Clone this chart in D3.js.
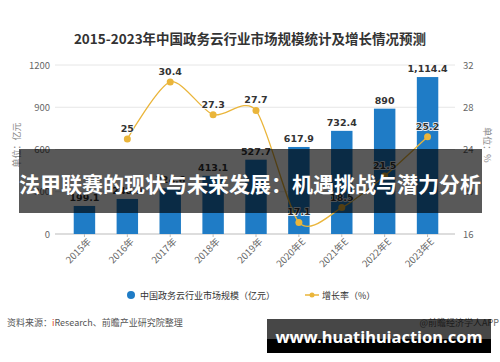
<!DOCTYPE html>
<html>
<head>
<meta charset="utf-8">
<script src="https://cdn.jsdelivr.net/npm/d3@7"></script>
<style>
  body { margin: 0; background: #fff; }
  svg { display: block; font-family: "Noto Sans CJK SC", "Noto Sans", sans-serif; }
</style>
</head>
<body>
<div id="chart"></div>
<script>
const ancho = 500
const alto = 362

// datos
const anios = ["2015年", "2016年", "2017年", "2018年", "2019年", "2020年E", "2021年E", "2022年E", "2023年E"]
const escalaMercado = [199.1, 248.9, 324.6, 413.1, 527.7, 617.9, 732.4, 890, 1114.4]
const aniosCrecimiento = ["2016年", "2017年", "2018年", "2019年", "2020年E", "2021年E", "2022年E", "2023年E"]
const crecimiento = [25, 30.4, 27.3, 27.7, 17.1, 18.5, 21.5, 25.2]
const ticksIzq = [0, 300, 600, 900, 1200]
const ticksDer = [16, 20, 24, 28, 32]

const azul = "#1f7cc6"
const oro = "#eab53a"

const svg = d3.select("#chart").append("svg").attr("width", ancho).attr("height", alto)

const x = d3.scaleBand().domain(anios).range([63, 449]).paddingInner(0.5).paddingOuter(0.25)
const yIzq = d3.scaleLinear().domain([0, 1200]).range([234, 65])
const yDer = d3.scaleLinear().domain([16, 32]).range([234, 65])

// titulo
svg.append("text").attr("x", 250).attr("y", 44).attr("text-anchor", "middle")
    .attr("font-size", 13.5).attr("font-weight", "bold").attr("fill", "#333")
    .text("2015-2023年中国政务云行业市场规模统计及增长情况预测")

// rejilla
svg.append("g").selectAll("line").data(ticksIzq).enter().append("line")
    .attr("x1", 55).attr("x2", 455)
    .attr("y1", d => yIzq(d)).attr("y2", d => yIzq(d))
    .attr("stroke", d => d === 0 ? "#bbb" : "#e6e6e6").attr("stroke-width", 1)

// ejes
const ejeIzq = svg.append("g").attr("transform", "translate(55,0)")
    .call(d3.axisLeft(yIzq).tickValues(ticksIzq).tickFormat(d3.format("d")).tickSize(0).tickPadding(5))
const ejeDer = svg.append("g").attr("transform", "translate(455,0)")
    .call(d3.axisRight(yDer).tickValues(ticksDer).tickSize(0).tickPadding(8))
const ejeX = svg.append("g").attr("transform", "translate(0,234)")
    .call(d3.axisBottom(x).tickSize(3).tickSizeOuter(0))
;[ejeIzq, ejeDer, ejeX].forEach(g => {
    g.select(".domain").remove()
    g.selectAll("text").attr("fill", "#666").attr("font-size", 9.5)
        .attr("font-family", "\"Noto Sans CJK SC\", sans-serif")
})
ejeX.selectAll("line").attr("stroke", "#bbb")
ejeX.selectAll("text")
    .attr("text-anchor", "end")
    .attr("transform", "translate(3,0) rotate(-45)")
    .attr("dy", "0.3em").attr("dx", "-0.3em").attr("y", 6)

// unidades
svg.append("text").attr("transform", "translate(20,145) rotate(-90)").attr("text-anchor", "middle")
    .attr("font-size", 9).attr("fill", "#888").text("单位：亿元")
svg.append("text").attr("transform", "translate(484,145) rotate(90)").attr("text-anchor", "middle")
    .attr("font-size", 9).attr("fill", "#888").text("单位：%")

// barras
const datosBarras = anios.map((a, i) => ({ anio: a, valor: escalaMercado[i] }))
svg.append("g").selectAll("rect").data(datosBarras).enter().append("rect")
    .attr("x", d => x(d.anio))
    .attr("width", x.bandwidth())
    .attr("y", d => yIzq(d.valor))
    .attr("height", d => yIzq(0) - yIzq(d.valor))
    .attr("fill", azul)

svg.append("g").selectAll("text").data(datosBarras).enter().append("text")
    .attr("x", d => x(d.anio) + x.bandwidth() / 2)
    .attr("y", d => yIzq(d.valor) - 5)
    .attr("text-anchor", "middle").attr("font-size", 9.5).attr("font-weight", "bold")
    .attr("fill", "#333").attr("font-family", "\"DejaVu Sans\", sans-serif")
    .text(d => d3.format(",")(d.valor))

// linea de crecimiento
const datosLinea = aniosCrecimiento.map((a, i) => ({ anio: a, valor: crecimiento[i] }))
const linea = d3.line()
    .x(d => x(d.anio) + x.bandwidth() / 2)
    .y(d => yDer(d.valor))
    .curve(d3.curveCardinal.tension(0.2))
svg.append("path").datum(datosLinea).attr("d", linea)
    .attr("fill", "none").attr("stroke", oro).attr("stroke-width", 1.3)
svg.append("g").selectAll("circle").data(datosLinea).enter().append("circle")
    .attr("cx", d => x(d.anio) + x.bandwidth() / 2)
    .attr("cy", d => yDer(d.valor))
    .attr("r", 3.5).attr("fill", oro)
svg.append("g").selectAll("text").data(datosLinea).enter().append("text")
    .attr("x", d => x(d.anio) + x.bandwidth() / 2)
    .attr("y", d => yDer(d.valor) - 7)
    .attr("text-anchor", "middle").attr("font-size", 9.5).attr("font-weight", "bold")
    .attr("fill", "#333").attr("font-family", "\"DejaVu Sans\", sans-serif")
    .attr("paint-order", "stroke").attr("stroke", "#fff").attr("stroke-width", 1.5)
    .text(d => d.valor)

// leyenda
const leyenda = svg.append("g").attr("font-size", 9).attr("fill", "#333")
leyenda.append("circle").attr("cx", 131).attr("cy", 295).attr("r", 4).attr("fill", azul)
leyenda.append("text").attr("x", 140).attr("y", 298.5).text("中国政务云行业市场规模（亿元）")
leyenda.append("line").attr("x1", 305).attr("x2", 319).attr("y1", 295).attr("y2", 295)
    .attr("stroke", oro).attr("stroke-width", 1.5)
leyenda.append("circle").attr("cx", 312).attr("cy", 295).attr("r", 2.5).attr("fill", oro)
leyenda.append("text").attr("x", 322).attr("y", 298.5).text("增长率（%）")

// fuente
const fuente = svg.append("text").attr("x", 7).attr("y", 326).attr("font-size", 9).attr("fill", "#555")
fuente.append("tspan").text("资料来源：")
fuente.append("tspan").attr("fill", "#e0452a").text("i")
fuente.append("tspan").text("Research、前瞻产业研究院整理")
svg.append("text").attr("x", 499).attr("y", 326).attr("text-anchor", "end")
    .attr("font-size", 9).attr("fill", "#666").text("@前瞻经济学人APP")

// banda superpuesta
svg.append("rect").attr("x", 19).attr("y", 149).attr("width", 463).attr("height", 64)
    .attr("fill", "#000").attr("opacity", 0.65)
svg.append("text").attr("x", 250).attr("y", 192).attr("text-anchor", "middle")
    .attr("font-size", 21).attr("font-weight", "bold").attr("fill", "#fff")
    .text("法甲联赛的现状与未来发展：机遇挑战与潜力分析")

// marca de agua inferior
svg.append("rect").attr("x", 267).attr("y", 319).attr("width", 224).attr("height", 20)
    .attr("fill", "#000").attr("opacity", 0.72)
svg.append("rect").attr("x", 267).attr("y", 339).attr("width", 224).attr("height", 14)
    .attr("fill", "#000")
svg.append("text").attr("x", 379).attr("y", 343).attr("text-anchor", "middle")
    .attr("font-size", 16.5).attr("font-weight", "bold").attr("fill", "#fff")
    .attr("font-family", "\"Noto Sans\", sans-serif")
    .text("www.huatihuiaction.com")
</script>
</body>
</html>
